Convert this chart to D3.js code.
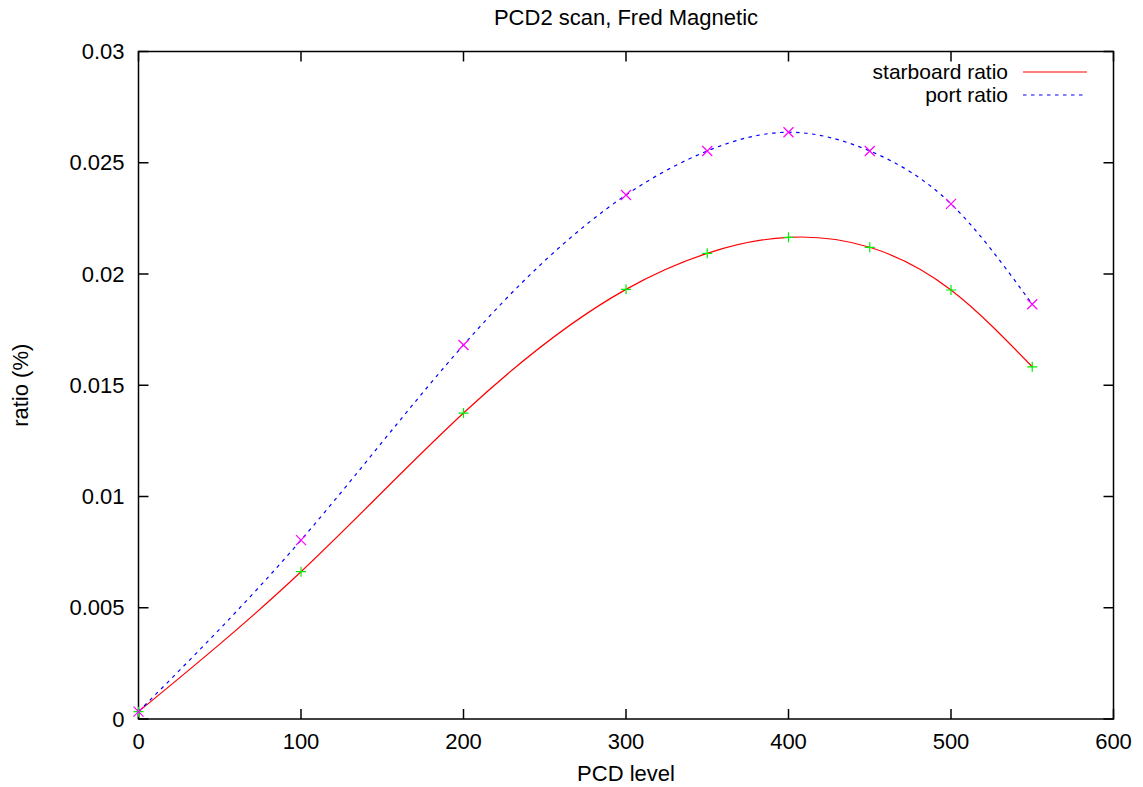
<!DOCTYPE html>
<html>
<head>
<meta charset="utf-8">
<script src="https://cdn.jsdelivr.net/npm/d3@7"></script>
<style>
  body { margin: 0; background: #fff; }
  text { font-family: "Liberation Sans", Arial, sans-serif; }
</style>
</head>
<body>
<div id="chart"></div>
<script>
// values
const pcdLevels = [0, 100, 200, 300, 350, 400, 450, 500, 550];
const starboardRatio = [0.00033, 0.00662, 0.01375, 0.01931, 0.02093, 0.02165, 0.0212, 0.01928, 0.01583];
const portRatio = [0.00033, 0.00804, 0.01681, 0.02355, 0.02553, 0.02637, 0.02553, 0.02315, 0.01864];
const xTicks = [0, 100, 200, 300, 400, 500, 600];
const yTicks = [0, 0.005, 0.01, 0.015, 0.02, 0.025, 0.03];

const width = 1143, height = 787;
const margin = { top: 51.5, right: 29.5, bottom: 68, left: 138.5 };
const fontSize = 22;

// natural cubic spline y(x), drawn as bezier segments (like gnuplot csplines)
function CurveCspline(context) { this._context = context; }
CurveCspline.prototype = {
    areaStart() { this._line = 0; },
    areaEnd() { this._line = NaN; },
    lineStart() { this._x = []; this._y = []; },
    point(px, py) { this._x.push(+px); this._y.push(+py); },
    lineEnd() {
        const xs = this._x, ys = this._y, n = xs.length;
        const ctx = this._context;
        if (!n) return;
        ctx.moveTo(xs[0], ys[0]);
        if (n < 3) {
            for (let i = 1; i < n; i++) ctx.lineTo(xs[i], ys[i]);
            return;
        }
        const h = [];
        for (let i = 0; i < n - 1; i++) h.push(xs[i + 1] - xs[i]);
        // tridiagonal system for second derivatives, natural ends
        const M = new Array(n).fill(0);
        const a = [], b = [], c = [], r = [];
        for (let i = 1; i < n - 1; i++) {
            a.push(h[i - 1]);
            b.push(2 * (h[i - 1] + h[i]));
            c.push(h[i]);
            r.push(6 * ((ys[i + 1] - ys[i]) / h[i] - (ys[i] - ys[i - 1]) / h[i - 1]));
        }
        const m = b.length;
        for (let i = 1; i < m; i++) {
            const w = a[i] / b[i - 1];
            b[i] -= w * c[i - 1];
            r[i] -= w * r[i - 1];
        }
        const sol = new Array(m);
        sol[m - 1] = r[m - 1] / b[m - 1];
        for (let i = m - 2; i >= 0; i--) sol[i] = (r[i] - c[i] * sol[i + 1]) / b[i];
        for (let i = 0; i < m; i++) M[i + 1] = sol[i];
        for (let i = 0; i < n - 1; i++) {
            const hi = h[i], dy = (ys[i + 1] - ys[i]) / hi;
            const s0 = dy - hi * (2 * M[i] + M[i + 1]) / 6;
            const s1 = dy + hi * (M[i] + 2 * M[i + 1]) / 6;
            ctx.bezierCurveTo(
                xs[i] + hi / 3, ys[i] + s0 * hi / 3,
                xs[i + 1] - hi / 3, ys[i + 1] - s1 * hi / 3,
                xs[i + 1], ys[i + 1]);
        }
    }
};
const curveCspline = context => new CurveCspline(context);

const svg = d3.select('#chart').append('svg')
    .attr('width', width)
    .attr('height', height);

const x = d3.scaleLinear().domain([0, 600]).range([margin.left, width - margin.right]);
const y = d3.scaleLinear().domain([0, 0.03]).range([height - margin.bottom, margin.top]);

// ticks on all four sides, pointing inward
const tickLen = 10;
const axes = svg.append('g').attr('stroke', '#000').attr('stroke-width', 1.5);
xTicks.forEach(t => {
    axes.append('line').attr('x1', x(t)).attr('x2', x(t))
        .attr('y1', y(0)).attr('y2', y(0) - tickLen);
    axes.append('line').attr('x1', x(t)).attr('x2', x(t))
        .attr('y1', y(0.03)).attr('y2', y(0.03) + tickLen);
});
yTicks.forEach(t => {
    axes.append('line').attr('x1', x(0)).attr('x2', x(0) + tickLen)
        .attr('y1', y(t)).attr('y2', y(t));
    axes.append('line').attr('x1', x(600)).attr('x2', x(600) - tickLen)
        .attr('y1', y(t)).attr('y2', y(t));
});
axes.append('rect')
    .attr('x', x(0)).attr('y', y(0.03))
    .attr('width', x(600) - x(0)).attr('height', y(0) - y(0.03))
    .attr('fill', 'none');

svg.append('g').selectAll('text')
    .data(xTicks)
    .enter().append('text')
    .attr('x', d => x(d))
    .attr('y', y(0) + 30)
    .attr('text-anchor', 'middle')
    .attr('font-size', fontSize)
    .text(d => d);

svg.append('g').selectAll('text')
    .data(yTicks)
    .enter().append('text')
    .attr('x', x(0) - 14)
    .attr('y', d => y(d) + 7.5)
    .attr('text-anchor', 'end')
    .attr('font-size', fontSize)
    .text(d => d === 0 ? '0' : String(+d.toFixed(3)));

// titles
svg.append('text')
    .attr('x', (x(0) + x(600)) / 2).attr('y', 25)
    .attr('text-anchor', 'middle').attr('font-size', fontSize)
    .text('PCD2 scan, Fred Magnetic');

svg.append('text')
    .attr('x', (x(0) + x(600)) / 2).attr('y', 781)
    .attr('text-anchor', 'middle').attr('font-size', fontSize)
    .text('PCD level');

svg.append('text')
    .attr('transform', `translate(28, ${(y(0) + y(0.03)) / 2}) rotate(-90)`)
    .attr('text-anchor', 'middle').attr('font-size', fontSize)
    .text('ratio (%)');

// smoothed curves
const line = d3.line()
    .x(d => x(d[0]))
    .y(d => y(d[1]))
    .curve(curveCspline);

const starData = pcdLevels.map((p, i) => [p, starboardRatio[i]]);
const portData = pcdLevels.map((p, i) => [p, portRatio[i]]);

svg.append('path')
    .datum(starData)
    .attr('d', line)
    .attr('fill', 'none')
    .attr('stroke', '#ff0000')
    .attr('stroke-width', 1.2);

svg.append('path')
    .datum(portData)
    .attr('d', line)
    .attr('fill', 'none')
    .attr('stroke', '#0000ff')
    .attr('stroke-width', 1.2)
    .attr('stroke-dasharray', '3.5,4.5');

// point markers
const m = 5;
svg.append('g').selectAll('path')
    .data(starData)
    .enter().append('path')
    .attr('d', d => `M${x(d[0]) - m},${y(d[1])}H${x(d[0]) + m}M${x(d[0])},${y(d[1]) - m}V${y(d[1]) + m}`)
    .attr('stroke', '#00ee00')
    .attr('stroke-width', 1.2);

svg.append('g').selectAll('path')
    .data(portData)
    .enter().append('path')
    .attr('d', d => `M${x(d[0]) - m},${y(d[1]) - m}L${x(d[0]) + m},${y(d[1]) + m}M${x(d[0]) - m},${y(d[1]) + m}L${x(d[0]) + m},${y(d[1]) - m}`)
    .attr('stroke', '#ff00ff')
    .attr('stroke-width', 1.2);

// legend
const legend = svg.append('g');
const legendItems = [
    { label: 'starboard ratio', color: '#ff0000', dash: null, y: 72 },
    { label: 'port ratio', color: '#0000ff', dash: '3.5,4.5', y: 95 }
];
legendItems.forEach(item => {
    legend.append('text')
        .attr('x', 1008).attr('y', item.y + 7)
        .attr('text-anchor', 'end').attr('font-size', 21)
        .text(item.label);
    legend.append('line')
        .attr('x1', 1023).attr('x2', 1087)
        .attr('y1', item.y).attr('y2', item.y)
        .attr('stroke', item.color)
        .attr('stroke-width', 1.2)
        .attr('stroke-dasharray', item.dash);
});
</script>
</body>
</html>
